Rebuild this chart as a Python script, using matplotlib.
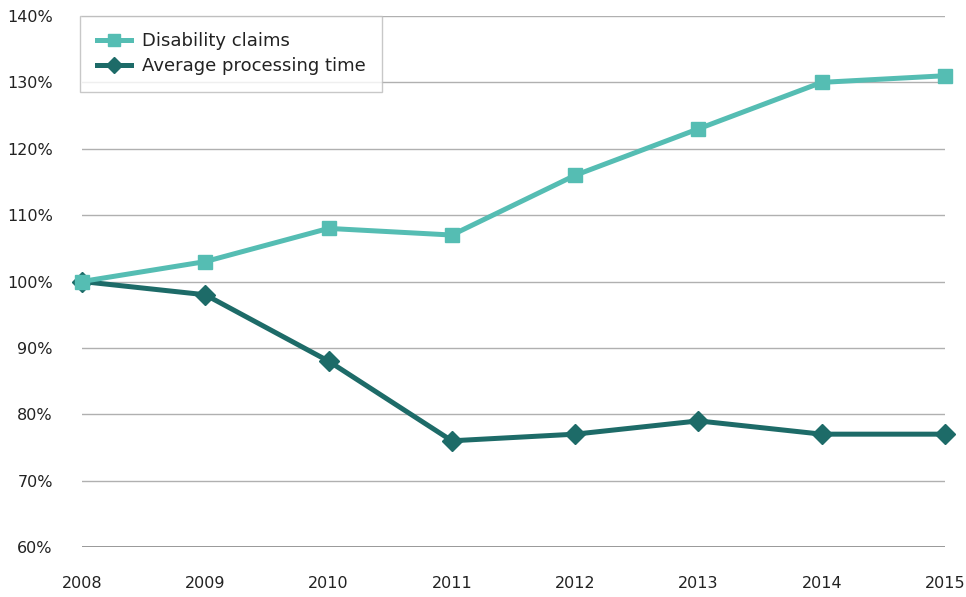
import matplotlib
matplotlib.use("Agg")
import matplotlib.pyplot as plt

years = ["2008", "2009", "2010", "2011", "2012", "2013", "2014", "2015"]
disability_claims = [100, 103, 108, 107, 116, 123, 130, 131]
processing_time = [100, 98, 88, 76, 77, 79, 77, 77]
y_ticks = [60, 70, 80, 90, 100, 110, 120, 130, 140]

light = "#55BDB3"
dark = "#1D6B68"

fig = plt.figure(figsize=(9.66, 5.97), dpi=100)
ax = fig.add_axes([82/966, 1-547/597, (945-82)/966, (547-16)/597])

x = list(range(len(years)))
ax.plot(x, processing_time, color=dark, lw=3.6, marker="D", markersize=10,
        label="Average processing time", zorder=3, clip_on=False)
ax.plot(x, disability_claims, color=light, lw=3.6, marker="s", markersize=10,
        label="Disability claims", zorder=4, clip_on=False)

ax.set_xlim(0, len(years)-1)
ax.set_ylim(60, 140)
ax.set_yticks(y_ticks)
ax.set_yticklabels([f"{v}%" for v in y_ticks])
ax.set_xticks(x)
ax.set_xticklabels(years)
for v in y_ticks:
    ax.axhline(v, color="#888888" if v == 60 else "#b0b0b0", lw=1.2 if v == 60 else 1, zorder=1)
for s in ax.spines.values():
    s.set_visible(False)
ax.tick_params(axis="both", length=0, labelsize=11.5, colors="#222222")
ax.tick_params(axis="y", pad=21)
ax.tick_params(axis="x", pad=21)

h, l = ax.get_legend_handles_labels()
leg = ax.legend(h[::-1], l[::-1], loc="upper left", bbox_to_anchor=(-0.002, 1.0),
                borderaxespad=0, fontsize=13, frameon=True, fancybox=False,
                edgecolor="#bbbbbb", handlelength=1.9, handletextpad=0.6,
                borderpad=0.9, labelspacing=0.4, markerscale=0.85)
leg.get_frame().set_linewidth(1)
leg.set_zorder(5)
for t in leg.get_texts():
    t.set_color("#222222")

fig.savefig("out.png", dpi=100)
